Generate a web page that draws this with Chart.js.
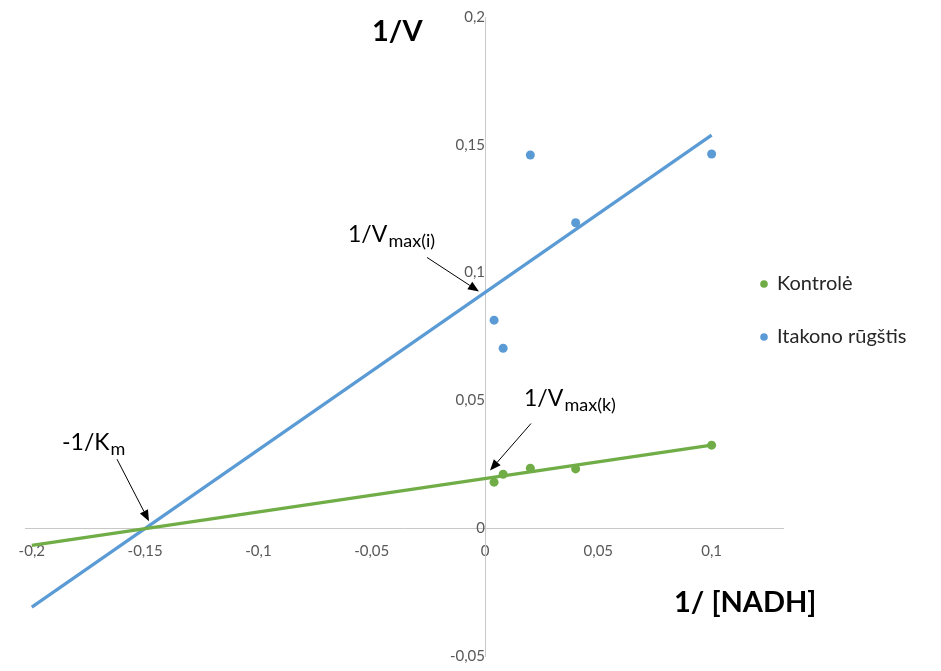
<!DOCTYPE html>
<html>
<head>
<meta charset="utf-8">
<script src="https://cdn.jsdelivr.net/npm/chart.js@4"></script>
<style>
  html, body { margin: 0; padding: 0; background: #ffffff; }
  #wrap { width: 941px; height: 671px; }
</style>
</head>
<body>
<div id="wrap"><canvas id="c" width="941" height="671"></canvas></div>
<script>
// 1/[NADH] values of the measured points
const nadhInv = [0.004, 0.008, 0.02, 0.04, 0.1];
// 1/V for each series
const kontroleV = [0.018, 0.0211, 0.0235, 0.0232, 0.0325];
const itakonoV = [0.0814, 0.0704, 0.146, 0.1195, 0.1464];
// linear trendlines (Lineweaver–Burk fits), given at their end points
const trendX = [-0.2, 0.1];
const kontroleTrend = [-0.0067, 0.0325];
const itakonoTrend = [-0.0309, 0.1538];
// axis ticks
const xTicks = [-0.2, -0.15, -0.1, -0.05, 0, 0.05, 0.1];
const yTicks = [-0.05, 0, 0.05, 0.1, 0.15, 0.2];
const seriesNames = ['Kontrolė', 'Itakono rūgštis'];

const GREEN = '#70ad47';
const BLUE = '#5b9bd5';
const FONT = 'Lato, "Open Sans", "Liberation Sans", sans-serif';

const pts = (xs, ys) => xs.map((x, i) => ({ x: x, y: ys[i] }));
const fmt = v => String(v).replace('.', ',');

// value of a two-point line at a given x, and its root
const lineAt = (ys, x) => ys[0] + (x - trendX[0]) * (ys[1] - ys[0]) / (trendX[1] - trendX[0]);
const lineRoot = ys => trendX[0] - ys[0] * (trendX[1] - trendX[0]) / (ys[1] - ys[0]);

function arrow(ctx, x1, y1, x2, y2) {
  const ang = Math.atan2(y2 - y1, x2 - x1);
  const hl = 11, hw = 4.5;
  const bx = x2 - hl * Math.cos(ang), by = y2 - hl * Math.sin(ang);
  ctx.save();
  ctx.strokeStyle = '#000'; ctx.fillStyle = '#000'; ctx.lineWidth = 1;
  ctx.beginPath(); ctx.moveTo(x1, y1); ctx.lineTo(bx, by); ctx.stroke();
  ctx.beginPath();
  ctx.moveTo(x2, y2);
  ctx.lineTo(bx + hw * Math.sin(ang), by - hw * Math.cos(ang));
  ctx.lineTo(bx - hw * Math.sin(ang), by + hw * Math.cos(ang));
  ctx.closePath(); ctx.fill();
  ctx.restore();
}

function subText(ctx, x, y, main, sub) {
  ctx.save();
  ctx.fillStyle = '#000';
  ctx.textBaseline = 'alphabetic';
  ctx.textAlign = 'left';
  ctx.font = '23px ' + FONT;
  ctx.fillText(main, x, y);
  const w = ctx.measureText(main).width;
  ctx.font = '18px ' + FONT;
  ctx.fillText(sub, x + w + 1, y + 5);
  ctx.restore();
}

const annotations = {
  id: 'annotations',
  afterDatasetsDraw(chart) {
    const ctx = chart.ctx;
    const xs = chart.scales.x, ys = chart.scales.y;
    const x0 = xs.getPixelForValue(0);
    const yi = ys.getPixelForValue(lineAt(itakonoTrend, 0));
    const yk = ys.getPixelForValue(lineAt(kontroleTrend, 0));
    const kmX = xs.getPixelForValue(lineRoot(kontroleTrend));
    const y0 = ys.getPixelForValue(0);

    // -1/Km
    subText(ctx, kmX - 86, y0 - 78, '-1/K', 'm');
    arrow(ctx, kmX - 31, y0 - 69, kmX + 1, y0 - 7);
    // 1/Vmax(i)
    subText(ctx, x0 - 137, yi - 50, '1/V', 'max(i)');
    arrow(ctx, x0 - 58, yi - 35, x0 - 6, yi - 1);
    // 1/Vmax(k)
    subText(ctx, x0 + 39, yk - 73, '1/V', 'max(k)');
    arrow(ctx, x0 + 46, yk - 55, x0 + 5, yk - 8);

    // axis titles
    ctx.save();
    ctx.fillStyle = '#000';
    ctx.font = 'bold 29px ' + FONT;
    ctx.textBaseline = 'alphabetic';
    ctx.textAlign = 'left';
    ctx.fillText('1/V', 372, 41);
    ctx.fillText('1/ [NADH]', 674, 612);
    ctx.restore();
  },
  afterDraw(chart) {
    // legend: marker series only
    const ctx = chart.ctx;
    const items = chart.data.datasets.filter(d => seriesNames.includes(d.label));
    ctx.save();
    ctx.font = '20px ' + FONT;
    ctx.textBaseline = 'middle';
    ctx.textAlign = 'left';
    items.forEach((d, i) => {
      const y = 284 + i * 53;
      ctx.fillStyle = d.backgroundColor;
      ctx.beginPath(); ctx.arc(764, y, 3.8, 0, Math.PI * 2); ctx.fill();
      ctx.fillStyle = '#262626';
      ctx.fillText(d.label, 777, y);
    });
    ctx.restore();
  }
};

// centred axes: keep their label overhang from shrinking the plot area
const noOverhang = s => { s.paddingTop = 0; s.paddingBottom = 0; s.paddingLeft = 0; s.paddingRight = 0; };

new Chart(document.getElementById('c'), {
  type: 'scatter',
  data: {
    datasets: [
      { label: 'kontrole-trend', data: pts(trendX, kontroleTrend), showLine: true,
        borderColor: GREEN, borderWidth: 3.2, pointRadius: 0, fill: false },
      { label: seriesNames[0], data: pts(nadhInv, kontroleV), backgroundColor: GREEN,
        borderColor: GREEN, pointRadius: 4.5, pointBorderWidth: 0 },
      { label: 'itakono-trend', data: pts(trendX, itakonoTrend), showLine: true,
        borderColor: BLUE, borderWidth: 3.2, pointRadius: 0, fill: false },
      { label: seriesNames[1], data: pts(nadhInv, itakonoV), backgroundColor: BLUE,
        borderColor: BLUE, pointRadius: 4.5, pointBorderWidth: 0 }
    ]
  },
  options: {
    responsive: false,
    animation: false,
    devicePixelRatio: 1,
    layout: { padding: { left: 25, right: 158, top: 17, bottom: 15 } },
    plugins: { legend: { display: false }, tooltip: { enabled: false } },
    scales: {
      x: {
        type: 'linear', min: -0.203, max: 0.1315,
        position: { y: 0 },
        grid: { display: false, drawTicks: false },
        border: { display: true, color: '#c8c8c8', width: 1 },
        afterBuildTicks: s => { s.ticks = xTicks.map(v => ({ value: v })); },
        afterFit: noOverhang,
        ticks: { color: '#595959', font: { family: FONT, size: 15 }, padding: 14,
                 maxRotation: 0, autoSkip: false, callback: v => fmt(v) }
      },
      y: {
        type: 'linear', min: -0.05, max: 0.2,
        position: { x: 0 },
        grid: { display: false, drawTicks: false },
        border: { display: true, color: '#c8c8c8', width: 1 },
        afterBuildTicks: s => { s.ticks = yTicks.map(v => ({ value: v })); },
        afterFit: noOverhang,
        ticks: { color: '#595959', font: { family: FONT, size: 15 }, padding: 15,
                 autoSkip: false, callback: v => fmt(v) }
      }
    }
  },
  plugins: [annotations]
});
</script>
</body>
</html>
